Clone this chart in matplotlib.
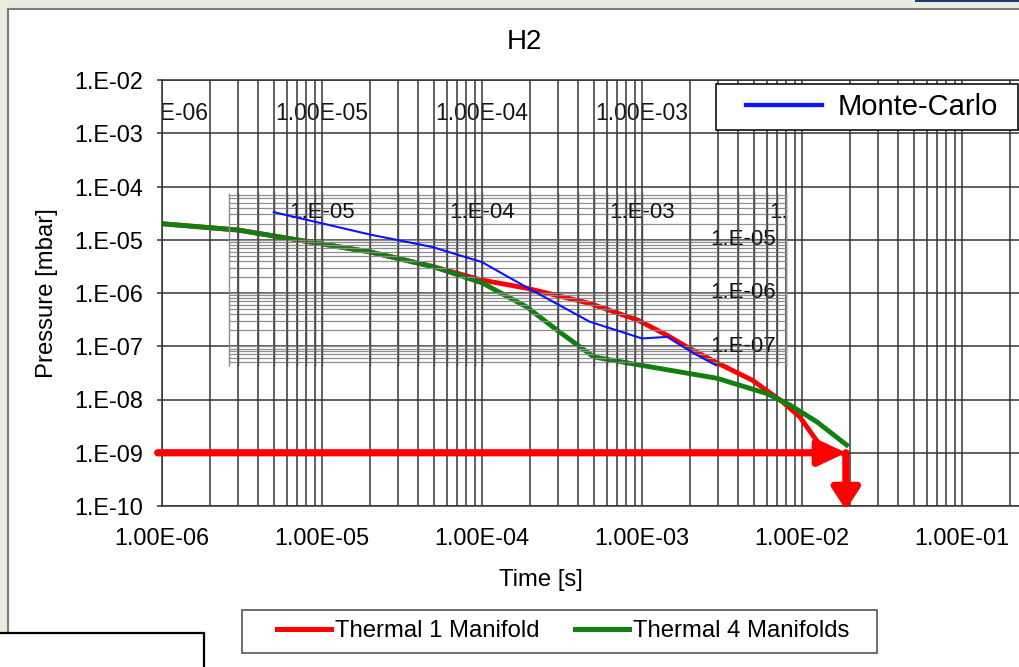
import numpy as np
import matplotlib
matplotlib.use("Agg")
import matplotlib.pyplot as plt
from matplotlib.lines import Line2D
from matplotlib.patches import Rectangle
from matplotlib.transforms import Bbox, TransformedBbox
from matplotlib.ticker import LogLocator, NullLocator

plt.rcParams['font.family'] = ['Liberation Sans', 'DejaVu Sans']

# pressure decay curves, time [s] vs pressure [mbar]
t_thermal1 = [1e-6, 3e-6, 2e-5, 5e-5, 1e-4, 1.9e-4, 4.7e-4, 9.4e-4, 1.44e-3, 1.9e-3,
              2.9e-3, 4.9e-3, 7.6e-3, 9.7e-3, 1.29e-2, 1.88e-2]
p_thermal1 = [2.0e-5, 1.52e-5, 5.9e-6, 3.1e-6, 1.75e-6, 1.23e-6, 6.4e-7, 3.1e-7, 1.6e-7, 9.8e-8,
              5.0e-8, 2.3e-8, 8.9e-9, 4.7e-9, 1.4e-9, 9.2e-10]

t_thermal4 = [1e-6, 3e-6, 2e-5, 5e-5, 1e-4, 1.9e-4, 2.95e-4, 5e-4, 9.4e-4, 2.95e-3,
              6e-3, 8.4e-3, 1.24e-2, 1.9e-2]
p_thermal4 = [2.0e-5, 1.52e-5, 5.9e-6, 3.1e-6, 1.55e-6, 5.5e-7, 2.0e-7, 6.3e-8, 4.5e-8, 2.5e-8,
              1.3e-8, 7.9e-9, 3.8e-9, 1.4e-9]

t_mc = [5.0e-6, 2.0e-5, 4.9e-5, 1e-4, 1.9e-4, 4.7e-4, 1e-3, 1.44e-3, 2.1e-3, 2.9e-3]
p_mc = [3.3e-5, 1.25e-5, 7.3e-6, 3.8e-6, 1.28e-6, 2.9e-7, 1.4e-7, 1.5e-7, 7.4e-8, 4.4e-8]

# target pressure and the time it is reached
p_target = 1e-9
t_target = 1.88e-2
t_arrow_start = 9.4e-7
p_arrow_end = 8.4e-11

x_ticks = [1e-6, 1e-5, 1e-4, 1e-3, 1e-2, 1e-1]
x_labels = ['1.00E-06', '1.00E-05', '1.00E-04', '1.00E-03', '1.00E-02', '1.00E-01']
y_ticks = [1e-2, 1e-3, 1e-4, 1e-5, 1e-6, 1e-7, 1e-8, 1e-9, 1e-10]
y_labels = ['1.E-02', '1.E-03', '1.E-04', '1.E-05', '1.E-06', '1.E-07', '1.E-08', '1.E-09', '1.E-10']

# pasted Monte-Carlo plot: its own grid and labels
inset_t = (2.62e-6, 8.0e-3)
inset_p = (4.27e-8, 7.55e-5)
inset_xticks = [1e-5, 1e-4, 1e-3, 1e-2]
inset_xlabels = ['1.E-05', '1.E-04', '1.E-03', '1.E-02']
inset_yticks = [1e-5, 1e-6, 1e-7]
inset_ylabels = ['1.E-05', '1.E-06', '1.E-07']
inset_xlabel_p = 3.18e-5
inset_ylabel_t = 6.88e-3
top_row_p = 2.4e-3

W, H = 1019, 667
def fx(x):
    return x / W
def fy(y):
    return 1 - y / H

fig = plt.figure(figsize=(W / 100, H / 100), dpi=100, facecolor='#eaece0')

# white chart area with its frame running off the page
fig.add_artist(Rectangle((fx(7.5), -0.1), 1.2, fy(8.5) + 0.1, transform=fig.transFigure,
                         facecolor='white', edgecolor='#7c7c7c', lw=1.5, zorder=-1))
fig.add_artist(Rectangle((fx(915), fy(1.5)), 0.2, 0.05, transform=fig.transFigure,
                         facecolor='#1f3a6e', edgecolor='none', zorder=-1))
fig.add_artist(Rectangle((-0.05, -0.1), fx(204) + 0.05, fy(633) + 0.1, transform=fig.transFigure,
                         facecolor='white', edgecolor='black', lw=1.6, zorder=4))

ax = fig.add_axes([fx(162), fy(506), 960 / W, 426 / H])
ax.set_xscale('log')
ax.set_yscale('log')
ax.set_xlim(1e-6, 1e0)
ax.set_ylim(1e-10, 1e-2)
ax.set_axisbelow(True)

ax.set_xticks(x_ticks)
ax.set_xticklabels(x_labels, fontsize=16.8)
ax.xaxis.set_minor_locator(LogLocator(base=10, subs=np.arange(2, 10), numticks=30))
ax.set_yticks(y_ticks)
ax.set_yticklabels(y_labels, fontsize=16.8)
ax.yaxis.set_minor_locator(NullLocator())
ax.tick_params(axis='x', which='both', length=0, pad=15)
ax.tick_params(axis='y', which='major', length=3.6, width=1.1, color='#333333', pad=10)

grid_color = '#363636'
ax.grid(True, axis='x', which='both', color=grid_color, lw=1.1)
ax.grid(True, axis='y', which='major', color=grid_color, lw=1.1)
for side in ['left', 'bottom', 'top', 'right']:
    ax.spines[side].set_color('#333333')
    ax.spines[side].set_linewidth(1.1)

# stray axis labels sitting under the grid
for t, lab in zip(x_ticks[:5], x_labels[:5]):
    ax.text(t, top_row_p, lab, fontsize=16.5, color='#151515', ha='center', va='center',
            zorder=0.3, clip_on=True)

ax.plot(t_thermal1, p_thermal1, color='#ff0000', lw=3.5, zorder=2)
ax.plot(t_thermal4, p_thermal4, color='#108010', lw=3.5, zorder=2.1)

# grid of the pasted plot covers the thermal curves
minor_vals = [m * 10.0 ** d for d in range(-7, -1) for m in range(1, 10)]
vx = [v for v in minor_vals if inset_t[0] <= v <= inset_t[1]]
ax.vlines(vx, inset_p[0], inset_p[1], color='#4a4a4a', lw=1.0, zorder=2.5)
ax.vlines(inset_t, inset_p[0], inset_p[1], color='#8a8a8a', lw=1.0, zorder=2.5)
minor_p = [m * 10.0 ** d for d in range(-9, -3) for m in range(1, 10)]
hy = [v for v in minor_p if inset_p[0] <= v <= inset_p[1]]
ax.hlines(hy, inset_t[0], inset_t[1], color='#8e8e8e', lw=0.9, zorder=2.45)

inset_box = TransformedBbox(Bbox([[inset_t[0], inset_p[0]], [inset_t[1], inset_p[1]]]), ax.transData)
for t, lab in zip(inset_xticks, inset_xlabels):
    txt = ax.text(t, inset_xlabel_p, lab, fontsize=16, color='#111111', ha='center', va='center',
                  zorder=2.47, clip_on=True)
    txt.set_clip_box(inset_box)
for p, lab in zip(inset_yticks, inset_ylabels):
    ax.text(inset_ylabel_t, p, lab, fontsize=16, color='#111111', ha='right', va='center',
            zorder=2.47)

ax.plot(t_mc, p_mc, color='#0a14ff', lw=1.5, zorder=3)

# arrows marking when the target pressure is reached
ax.annotate('', xy=(t_target, p_target), xytext=(t_arrow_start, p_target),
            arrowprops=dict(arrowstyle='-|>,head_length=0.8,head_width=0.38', color='#ff0000',
                            lw=5.2, mutation_scale=20, shrinkA=0, shrinkB=0),
            annotation_clip=False, zorder=6)
ax.annotate('', xy=(t_target, p_arrow_end), xytext=(t_target, p_target),
            arrowprops=dict(arrowstyle='-|>,head_length=0.65,head_width=0.42', color='#ff0000',
                            lw=5.2, mutation_scale=20, shrinkA=0, shrinkB=0),
            annotation_clip=False, zorder=6)

fig.text(fx(524), fy(42), 'H2', fontsize=20, ha='center', va='center')
fig.text(fx(541), fy(580), 'Time [s]', fontsize=17.2, ha='center', va='center')
fig.text(fx(47), fy(293), 'Pressure [mbar]', fontsize=17.2, ha='center', va='center', rotation=90)

# legends: white boxes with the entries laid on top
fig.add_artist(Rectangle((fx(716), fy(130)), 302 / W, 46 / H, transform=fig.transFigure,
                         facecolor='white', edgecolor='#111111', lw=1.2, zorder=4))
fig.add_artist(Rectangle((fx(242), fy(653)), 635 / W, 43 / H, transform=fig.transFigure,
                         facecolor='white', edgecolor='#555555', lw=1.2, zorder=4))

mc_handle = [Line2D([], [], color='#0a14ff', lw=3.1)]
fig.legend(mc_handle, ['Monte-Carlo'], loc='center left', bbox_to_anchor=(fx(746), fy(107)),
           frameon=False, fontsize=21, handlelength=2.6, handletextpad=0.55,
           borderpad=0, borderaxespad=0)

th_handles = [Line2D([], [], color='#ff0000', lw=3.6), Line2D([], [], color='#108010', lw=3.6)]
fig.legend(th_handles, ['Thermal 1 Manifold', 'Thermal 4 Manifolds'], loc='center left',
           bbox_to_anchor=(fx(277), fy(631)), ncol=2, frameon=False, fontsize=17.2,
           handlelength=2.26, handletextpad=0.17, columnspacing=1.5,
           borderpad=0, borderaxespad=0)

fig.savefig('out.png', dpi=100, facecolor=fig.get_facecolor())
